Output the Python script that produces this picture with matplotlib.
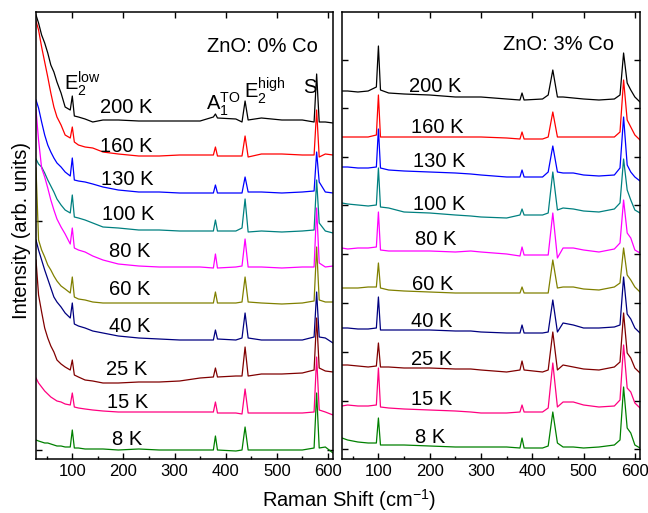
#Espectros Raman de ZnO (0% y 3% Co) a distintas temperaturas
import numpy as np
import matplotlib
matplotlib.use("Agg")
import matplotlib.pyplot as plt

plt.rcParams['font.family'] = ['Liberation Sans', 'DejaVu Sans']
plt.rcParams['mathtext.fontset'] = 'custom'
plt.rcParams['mathtext.rm'] = 'Liberation Sans'
plt.rcParams['mathtext.it'] = 'Liberation Sans:italic'
plt.rcParams['mathtext.bf'] = 'Liberation Sans:bold'

temps = ['200 K', '160 K', '130 K', '100 K', '80 K', '60 K', '40 K', '25 K', '15 K', '8 K']
colores = ['#000000', '#ff0000', '#0000ff', '#008080', '#ff00ff',
           '#808000', '#000080', '#800000', '#ff0080', '#008000']

#Posiciones de los picos (E2 low, A1 TO, E2 high, S) [cm-1]
picos_x_0 = [100, 380, 438, 578]
picos_x_3 = [100, 380, 440, 578]

#Grilla del fondo para cada panel [cm-1]
grilla_0 = [29, 34, 40, 46, 52, 58, 64, 70, 78, 86, 96, 104, 112, 125, 140, 160, 190, 230, 270,
            310, 350, 376, 384, 420, 432, 444, 470, 510, 550, 573, 583, 595, 610]
grilla_3 = [29, 40, 60, 80, 96, 104, 120, 150, 200, 250, 280, 300, 350, 376, 384, 420, 431, 449,
            460, 480, 500, 530, 560, 571, 585, 592, 600, 610]

#Fondo (intensidad desplazada, unidades arbitrarias) - ZnO 0% Co
fondo0_200 = [444, 436, 424, 416, 406, 394, 387, 377, 366, 352, 349, 343, 342, 340, 337, 339, 339,
              338, 338, 338, 338, 342, 341, 340, 337, 339, 341, 339, 339, 337, 337, 337, 336]
fondo0_160 = [438, 429, 412, 397, 382, 366, 352, 342, 334, 324, 321, 317, 314, 312, 311, 307, 305,
              303, 303, 304, 304, 304, 303, 303, 303, 302, 305, 305, 304, 304, 302, 305, 304]
fondo0_130 = [359, 351, 337, 324, 314, 307, 301, 296, 292, 287, 283, 279, 278, 277, 275, 272, 269,
              267, 267, 266, 266, 266, 266, 266, 266, 267, 267, 266, 267, 268, 277, 267, 266]
fondo0_100 = [300, 295, 292, 286, 279, 273, 267, 260, 254, 249, 246, 242, 241, 239, 236, 232, 231,
              229, 229, 228, 228, 228, 228, 228, 231, 227, 228, 227, 228, 229, 236, 228, 226]
fondo0_80 = [349, 319, 291, 282, 271, 259, 249, 240, 232, 225, 215, 211, 209, 207, 203, 199, 195,
             193, 192, 192, 192, 191, 191, 192, 193, 192, 192, 191, 192, 192, 196, 192, 193]
fondo0_60 = [291, 219, 209, 202, 194, 189, 183, 178, 173, 170, 166, 162, 160, 159, 157, 156, 156,
             156, 156, 156, 156, 156, 156, 156, 157, 157, 156, 155, 156, 158, 159, 157, 157]
fondo0_40 = [219, 209, 199, 189, 180, 171, 162, 157, 152, 146, 141, 135, 133, 131, 128, 126, 123,
             121, 120, 119, 119, 119, 120, 119, 121, 121, 119, 119, 119, 122, 122, 121, 116]
fondo0_25 = [199, 164, 147, 131, 121, 113, 107, 99, 95, 92, 89, 84, 82, 79, 78, 76, 76,
             77, 77, 78, 81, 82, 82, 83, 83, 83, 85, 85, 86, 89, 91, 88, 87]
fondo0_15 = [81, 76, 72, 68, 65, 62, 60, 58, 57, 55, 54, 52, 51, 50, 49, 48, 47,
             47, 47, 47, 47, 47, 46, 46, 45, 46, 46, 46, 46, 47, 49, 47, 44]
fondo0_8 = [19, 18, 17, 16, 16, 15, 14, 13, 13, 12, 12, 11, 11, 10, 10, 10, 9,
            10, 9, 9, 9, 9, 9, 8, 9, 9, 9, 9, 9, 11, 11, 12, 6]

#Alturas de los picos - ZnO 0% Co (una entrada por temperatura)
e2low_0 = [363, 332, 301, 264, 231, 182, 156, 99, 66, 29]
a1_0 = [345, 312, 274, 239, 205, 167, 129, 91, 57, 23]
e2high_0 = [358, 323, 282, 260, 220, 182, 146, 112, 70, 32]
s_0 = [385, 349, 307, 279, 251, 212, 167, 141, 102, 66]

#Fondo - ZnO 3% Co
fondo3_200 = [368, 368, 367, 368, 372, 369, 366, 365, 364, 362, 362, 362, 360, 359,
              359, 360, 364, 362, 362, 361, 360, 359, 360, 364, 376, 369, 362, 357]
fondo3_160 = [322, 322, 322, 322, 324, 322, 322, 322, 322, 322, 322, 322, 321, 320,
              320, 320, 322, 322, 322, 322, 322, 322, 322, 327, 339, 332, 324, 319]
fondo3_130 = [292, 292, 291, 291, 292, 291, 289, 288, 287, 286, 285, 284, 282, 282,
              282, 282, 287, 287, 286, 286, 284, 283, 284, 291, 294, 287, 282, 278]
fondo3_100 = [256, 255, 254, 253, 254, 252, 251, 247, 246, 244, 243, 242, 241, 244,
              244, 244, 246, 249, 251, 250, 248, 247, 250, 256, 269, 259, 249, 246]
fondo3_80 = [211, 210, 211, 211, 212, 209, 208, 208, 208, 207, 208, 207, 205, 203,
             204, 204, 204, 201, 211, 211, 209, 207, 210, 216, 226, 221, 209, 206]
fondo3_60 = [171, 171, 171, 172, 172, 171, 169, 168, 167, 166, 166, 166, 166, 166,
             166, 166, 166, 171, 172, 172, 170, 169, 172, 176, 184, 179, 172, 167]
fondo3_40 = [131, 131, 130, 130, 131, 129, 129, 129, 129, 128, 128, 127, 126, 126,
             126, 126, 127, 127, 136, 134, 131, 131, 132, 134, 145, 140, 131, 126]
fondo3_25 = [94, 94, 93, 92, 93, 92, 92, 91, 91, 90, 90, 89, 87, 89,
             89, 87, 89, 89, 94, 92, 90, 89, 92, 97, 106, 101, 91, 86]
fondo3_15 = [53, 54, 53, 53, 54, 52, 51, 50, 49, 48, 47, 46, 46, 47,
             47, 47, 51, 52, 57, 57, 54, 52, 53, 59, 71, 67, 56, 51]
fondo3_8 = [21, 19, 17, 16, 16, 14, 14, 14, 13, 12, 12, 12, 12, 11,
            11, 11, 13, 16, 12, 12, 11, 12, 14, 19, 31, 26, 14, 11]

#Alturas de los picos - ZnO 3% Co
e2low_3 = [413, 364, 330, 291, 247, 196, 162, 116, 91, 41]
a1_3 = [366, 327, 289, 250, 212, 172, 134, 98, 54, 21]
e2high_3 = [389, 347, 313, 287, 246, 199, 159, 127, 96, 47]
s_3 = [406, 379, 342, 300, 259, 211, 182, 146, 114, 72]

#Posicion de las etiquetas de temperatura (x centro, y linea base)
etiq_x_0 = [205, 205, 207, 209, 213, 213, 213, 207, 209, 207]
etiq_y_0 = [346, 307, 274, 239, 202, 164, 127, 84, 51, 14]
etiq_x_3 = [210, 214, 218, 218, 212, 206, 204, 204, 204, 200]
etiq_y_3 = [367, 326, 292, 249, 214, 169, 132, 94, 54, 16]

fondos_0 = [fondo0_200, fondo0_160, fondo0_130, fondo0_100, fondo0_80,
            fondo0_60, fondo0_40, fondo0_25, fondo0_15, fondo0_8]
fondos_3 = [fondo3_200, fondo3_160, fondo3_130, fondo3_100, fondo3_80,
            fondo3_60, fondo3_40, fondo3_25, fondo3_15, fondo3_8]


#Funcion que une el fondo y los picos en un solo espectro ordenado
def Armar_Espectro(grilla, fondo, picos_x, picos_y):
    x = np.array(grilla + picos_x, dtype=float)
    y = np.array(fondo + picos_y, dtype=float)
    orden = np.argsort(x)
    return x[orden], y[orden]


fig = plt.figure(figsize=(6.48, 5.13), dpi=100)
ax0 = fig.add_axes([36 / 648, 54 / 513, 297 / 648, 447 / 513])
ax3 = fig.add_axes([342 / 648, 54 / 513, 298 / 648, 447 / 513])

paneles = [
    (ax0, grilla_0, fondos_0, picos_x_0, [e2low_0, a1_0, e2high_0, s_0], etiq_x_0, etiq_y_0),
    (ax3, grilla_3, fondos_3, picos_x_3, [e2low_3, a1_3, e2high_3, s_3], etiq_x_3, etiq_y_3),
]

for ax, grilla, fondos, picos_x, alturas, ex, ey in paneles:
    for i in range(len(temps)):
        picos_y = [a[i] for a in alturas]
        x, y = Armar_Espectro(grilla, fondos[i], picos_x, picos_y)
        ax.plot(x, y, color=colores[i], lw=0.9)
        ax.text(ex[i], ey[i], temps[i], ha='center', va='baseline', fontsize=14.5)
    ax.set_xlim(29, 610)
    ax.set_ylim(0, 447)
    ax.set_xticks([100, 200, 300, 400, 500, 600])
    ax.set_xticks([50, 150, 250, 350, 450, 550], minor=True)
    ax.tick_params(axis='both', which='major', direction='in', length=4, width=1,
                   top=True, right=True, labelsize=12)
    ax.tick_params(axis='x', which='minor', direction='in', length=2.5, width=1,
                   top=False)
    ax.tick_params(axis='y', labelleft=False)
    for sp in ax.spines.values():
        sp.set_linewidth(1.1)

ax0.set_yticks([9, 238])
ax3.set_yticks([10, 58, 107, 156, 205, 254, 302, 351, 399])

#Anotaciones
ax0.text(471, 407, 'ZnO: 0% Co', ha='center', va='baseline', fontsize=14.5)
ax3.text(452, 409, 'ZnO: 3% Co', ha='center', va='baseline', fontsize=14.5)
ax0.text(84, 369, r'E$_2^{\mathrm{low}}$', ha='left', va='baseline', fontsize=14.5)
ax0.text(362, 349, r'A$_1^{\mathrm{TO}}$', ha='left', va='baseline', fontsize=14.5)
ax0.text(435, 361, r'E$_2^{\mathrm{high}}$', ha='left', va='baseline', fontsize=14.5)
ax0.text(552, 366, 'S', ha='left', va='baseline', fontsize=14.5)

fig.text(22 / 648, 1 - 231 / 513, 'Intensity (arb. units)', rotation=90,
         ha='center', va='center', fontsize=14.5)
fig.text(349 / 648, 1 - 500 / 513, r'Raman Shift (cm$^{-1}$)',
         ha='center', va='center', fontsize=14.5)

fig.savefig('out.png', dpi=100)
